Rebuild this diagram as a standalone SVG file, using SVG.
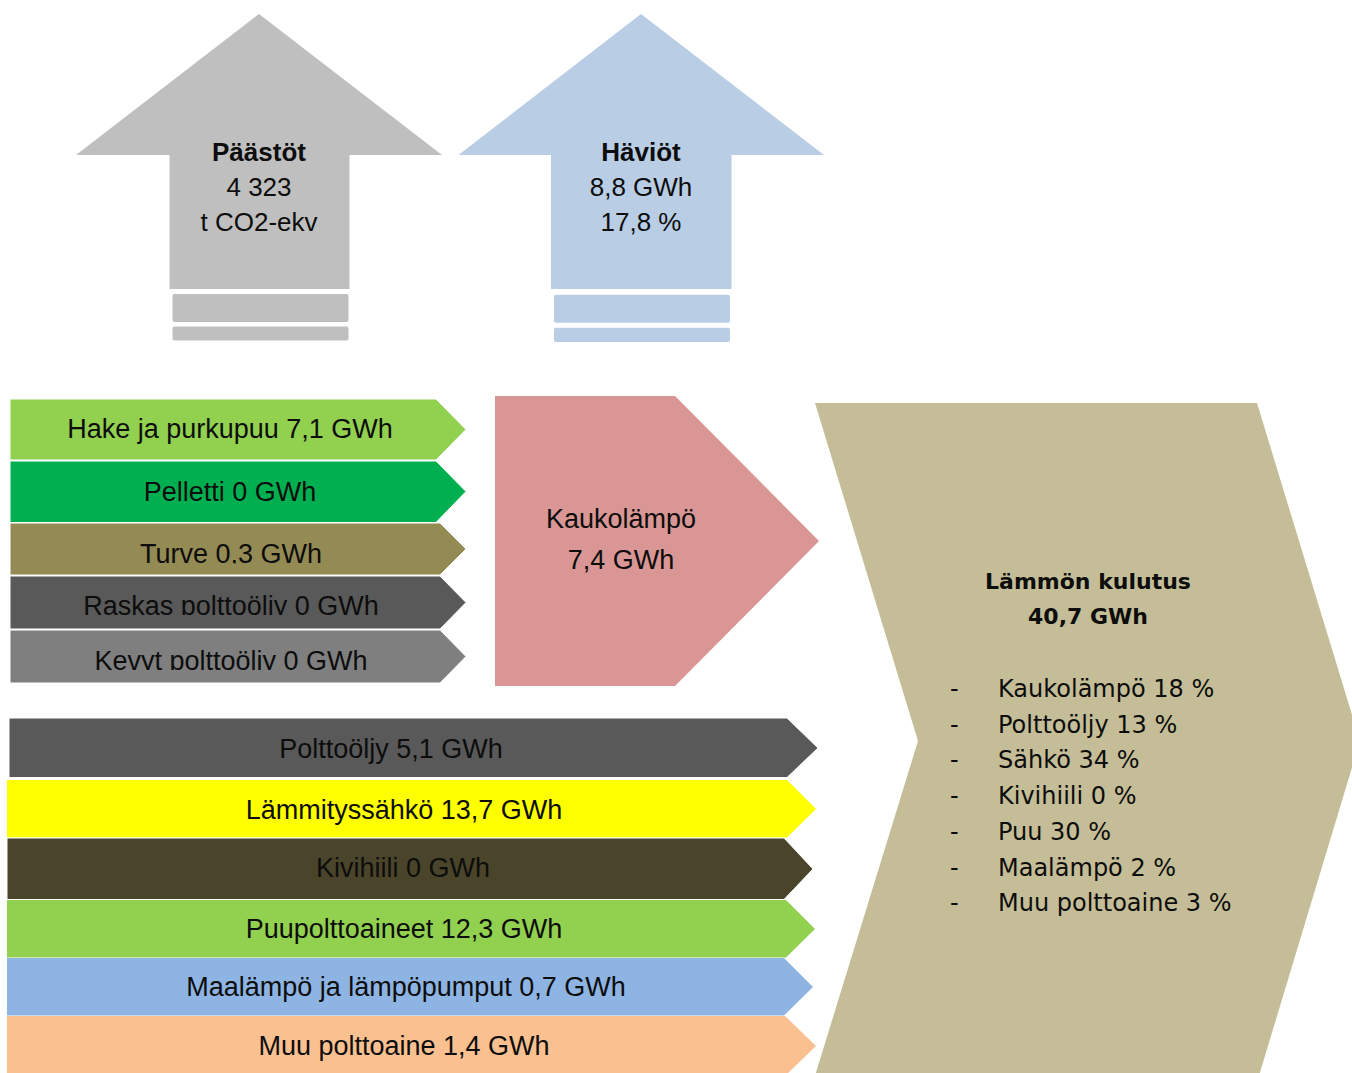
<svg xmlns="http://www.w3.org/2000/svg" width="1352" height="1073" viewBox="0 0 1352 1073">
<style>
.t{font-family:"Liberation Sans",Arial,sans-serif;font-size:27px;fill:#0d0d0d;text-anchor:middle}
.u{font-size:26px}
.b{font-weight:bold}
.r{font-family:"DejaVu Sans",Verdana,sans-serif;font-size:24px;fill:#0d0d0d}
.rb{font-family:"DejaVu Sans",Verdana,sans-serif;font-size:22px;font-weight:bold;fill:#0d0d0d;text-anchor:middle}
.s{stroke:#fff;stroke-width:1}
</style>
<defs>
<clipPath id="c3"><rect x="0" y="523" width="470" height="40.5"/></clipPath>
<clipPath id="c4"><rect x="0" y="576" width="470" height="39"/></clipPath>
<clipPath id="c5"><rect x="0" y="630" width="470" height="40"/></clipPath>
</defs>
<rect width="1352" height="1073" fill="#fff"/>

<g id="paastot">
<polygon points="259,14 442,155 349.5,155 349.5,289 169.5,289 169.5,155 76,155" fill="#BFBFBF"/>
<rect x="172.5" y="294" width="176" height="28" rx="2" fill="#BFBFBF"/>
<rect x="172.5" y="326.5" width="176" height="14" rx="2" fill="#BFBFBF"/>
<text class="t u b" x="259" y="161">Päästöt</text>
<text class="t u" x="259" y="196">4 323</text>
<text class="t u" x="259" y="231">t CO2-ekv</text>
</g>

<g id="haviot">
<polygon points="641,14 824,155 731.5,155 731.5,289 551,289 551,155 458.5,155" fill="#B9CDE5"/>
<rect x="554" y="294.7" width="176" height="28" rx="2" fill="#B9CDE5"/>
<rect x="554" y="327.7" width="176" height="14.3" rx="2" fill="#B9CDE5"/>
<text class="t u b" x="641" y="161">Häviöt</text>
<text class="t u" x="641" y="196">8,8 GWh</text>
<text class="t u" x="641" y="231">17,8 %</text>
</g>

<g id="hake">
<polygon class="s" points="10,399 436,399 466,429.5 436,460 10,460" fill="#92D050"/>
<text class="t" x="230" y="438">Hake ja purkupuu 7,1 GWh</text>
</g>
<g id="pelletti">
<polygon class="s" points="10,461 436,461 466,491.5 436,522.5 10,522.5" fill="#00B050"/>
<text class="t" x="230" y="501">Pelletti 0 GWh</text>
</g>
<g id="turve">
<polygon class="s" points="10,523 440,523 466,549 440,575 10,575" fill="#948A54"/>
<text class="t" x="231" y="563" clip-path="url(#c3)">Turve 0,3 GWh</text>
</g>
<g id="raskas">
<polygon class="s" points="10,576 440,576 466,602.5 440,629 10,629" fill="#595959"/>
<text class="t" x="231" y="614.5" clip-path="url(#c4)">Raskas polttoöljy 0 GWh</text>
</g>
<g id="kevyt">
<polygon class="s" points="10,630 440,630 466,656.5 440,683 10,683" fill="#7F7F7F"/>
<text class="t" x="231" y="669.5" clip-path="url(#c5)">Kevyt polttoöljy 0 GWh</text>
</g>

<g id="kaukolampo">
<polygon points="495,396 675,396 819,541 675,686 495,686" fill="#D99694"/>
<text class="t" x="621" y="528">Kaukolämpö</text>
<text class="t" x="621" y="569">7,4 GWh</text>
</g>

<g id="polttooljy">
<polygon class="s" points="9,718 787,718 818,748 787,777.5 9,777.5" fill="#595959"/>
<text class="t" x="391" y="758">Polttoöljy 5,1 GWh</text>
</g>
<g id="lammityssahko">
<polygon points="7,780 787,780 816,809 787,837.5 7,837.5" fill="#FFFF00"/>
<text class="t" x="404" y="819">Lämmityssähkö 13,7 GWh</text>
</g>
<g id="kivihiili">
<polygon class="s" points="7,838 784,838 813,869 784,899.5 7,899.5" fill="#4A452A"/>
<text class="t" x="403" y="877">Kivihiili 0 GWh</text>
</g>
<g id="puupolttoaineet">
<polygon points="7,900 786,900 815,929 786,957.5 7,957.5" fill="#92D050"/>
<text class="t" x="404" y="938">Puupolttoaineet 12,3 GWh</text>
</g>
<g id="maalampo">
<polygon points="7,958 784,958 813,987 784,1015.5 7,1015.5" fill="#8EB4E3"/>
<text class="t" x="406" y="996">Maalämpö ja lämpöpumput 0,7 GWh</text>
</g>
<g id="muu">
<polygon points="7,1016 785,1016 816,1046 785,1076 7,1076" fill="#FAC090"/>
<text class="t" x="404" y="1055">Muu polttoaine 1,4 GWh</text>
</g>

<g id="kulutus">
<polygon points="815,403 1257,403 1360,741 1258,1079 814,1079 918,741" fill="#C4BD97"/>
<text class="rb" x="1088" y="589">Lämmön kulutus</text>
<text class="rb" x="1088" y="624">40,7 GWh</text>
<g class="r">
<text x="950" y="697">-</text><text x="998" y="697">Kaukolämpö 18 %</text>
<text x="950" y="733">-</text><text x="998" y="733">Polttoöljy 13 %</text>
<text x="950" y="768">-</text><text x="998" y="768">Sähkö 34 %</text>
<text x="950" y="803.5">-</text><text x="998" y="803.5">Kivihiili 0 %</text>
<text x="950" y="839.5">-</text><text x="998" y="839.5">Puu 30 %</text>
<text x="950" y="875.5">-</text><text x="998" y="875.5">Maalämpö 2 %</text>
<text x="950" y="911">-</text><text x="998" y="911">Muu polttoaine 3 %</text>
</g>
</g>

<g id="connectors"/>
</svg>
